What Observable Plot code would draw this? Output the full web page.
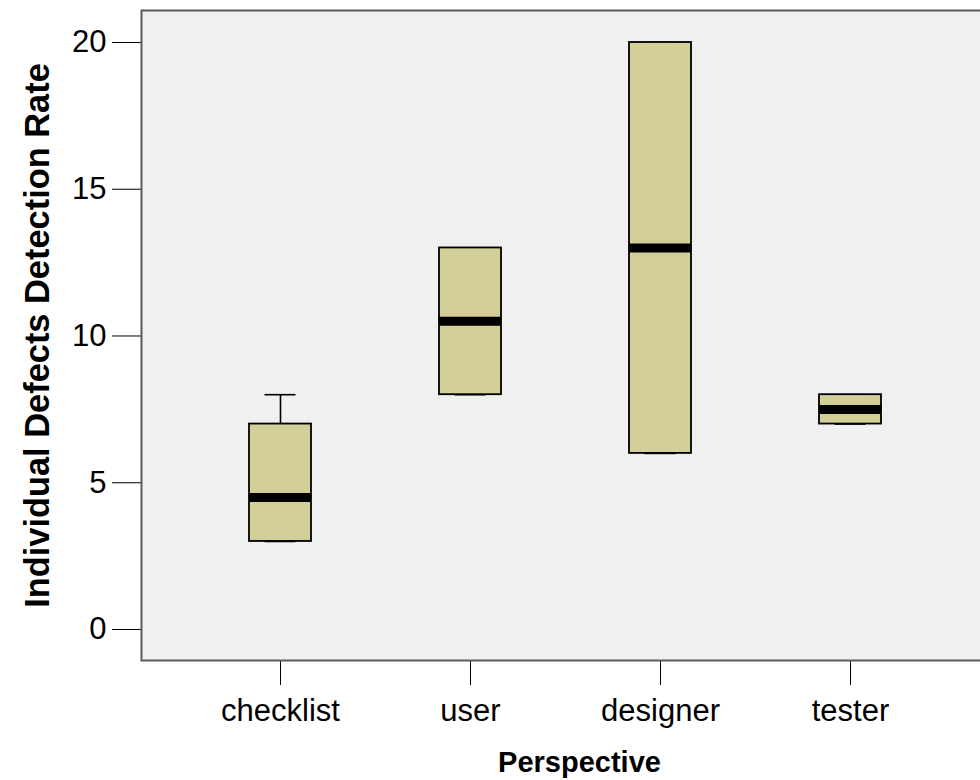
<!DOCTYPE html>
<html>
<head>
<meta charset="utf-8">
<script src="https://cdn.jsdelivr.net/npm/d3@7"></script>
<script src="https://cdn.jsdelivr.net/npm/@observablehq/plot@0.6"></script>
<style>
  html, body { margin: 0; padding: 0; background: #fff; overflow: hidden; }
</style>
</head>
<body>
<div id="chart"></div>
<script>
const categories = ["checklist", "user", "designer", "tester"];
const mins    = [3, 8, 6, 7];
const q1s     = [3, 8, 6, 7];
const medians = [4.5, 10.5, 13, 7.5];
const q3s     = [7, 13, 20, 8];
const maxs    = [8, 13, 20, 8];
const yTicks  = [0, 5, 10, 15, 20];
const xTitle  = "Perspective";
const yTitle  = "Individual Defects Detection Rate";

const data = categories.map((c, i) => ({
  cat: c, min: mins[i], q1: q1s[i], median: medians[i], q3: q3s[i], max: maxs[i]
}));

const boxFill = "#d3cf98";
const chart = Plot.plot({
  width: 980,
  height: 780,
  marginLeft: 141,
  marginRight: -9,
  marginTop: 10,
  marginBottom: 120,
  style: {
    fontFamily: "'Liberation Sans', Arial, sans-serif",
    fontSize: "31px",
    color: "#000",
    background: "#fff",
    overflow: "hidden"
  },
  x: {
    type: "band",
    domain: categories,
    paddingInner: 0.675,
    paddingOuter: 0.5575,
    tickSize: 25,
    tickPadding: 13,
    label: null
  },
  y: {
    domain: [-1.056, 21.09],
    ticks: yTicks,
    tickSize: 29,
    tickPadding: 6,
    label: null
  },
  marks: [
    Plot.frame({fill: "#f0f0f0", stroke: "#5a5a5a", strokeWidth: 2}),
    Plot.ruleX(data, {x: "cat", y1: "q3", y2: "max", stroke: "#000", strokeWidth: 1.6}),
    Plot.ruleX(data, {x: "cat", y1: "min", y2: "q1", stroke: "#000", strokeWidth: 1.6}),
    Plot.tickY(data, {x: "cat", y: "max", stroke: "#000", strokeWidth: 1.6, insetLeft: 15.5, insetRight: 15.5}),
    Plot.tickY(data, {x: "cat", y: "min", stroke: "#000", strokeWidth: 1.6, insetLeft: 15.5, insetRight: 15.5}),
    Plot.barY(data, {x: "cat", y1: "q1", y2: "q3", fill: boxFill, stroke: "#000", strokeWidth: 1.8}),
    Plot.tickY(data, {x: "cat", y: "median", stroke: "#000", strokeWidth: 9}),
    Plot.text([yTitle], {text: d => d, frameAnchor: "left", textAnchor: "middle", lineAnchor: "middle",
      dx: -104, dy: 0, rotate: -90, fontSize: 34.4, fontWeight: "bold", fill: "#000"}),
    Plot.text([xTitle], {text: d => d, frameAnchor: "bottom", textAnchor: "middle", lineAnchor: "middle",
      dx: 14, dy: 102, fontSize: 29, fontWeight: "bold", fill: "#000"})
  ]
});
document.getElementById("chart").appendChild(chart);
</script>
</body>
</html>
